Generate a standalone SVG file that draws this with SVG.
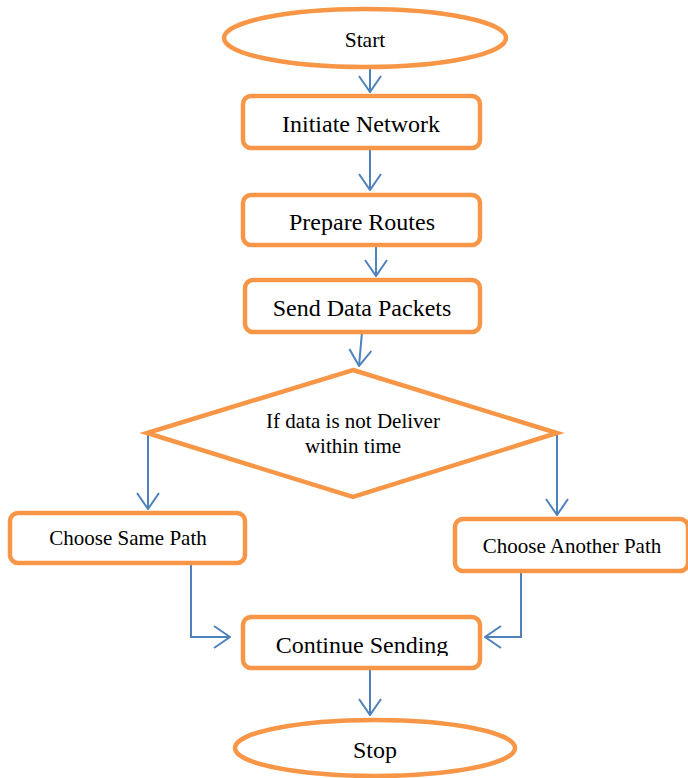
<svg xmlns="http://www.w3.org/2000/svg" width="688" height="778" viewBox="0 0 688 778">
<defs>
<marker id="arr" viewBox="0 0 18 24" refX="17" refY="12" markerWidth="18" markerHeight="24" markerUnits="userSpaceOnUse" orient="auto">
<path d="M1,1 L17,12 L1,23" fill="none" stroke="#4F81BD" stroke-width="2"/>
</marker>
<clipPath id="cs"><rect x="243" y="617" width="237" height="39"/></clipPath>
</defs>
<style>
.sh{fill:#fff;stroke:#F79646;stroke-width:4.5}
.t{font-family:"Liberation Serif","Times New Roman",serif;fill:#000;text-anchor:middle}
.c{fill:none;stroke:#4F81BD;stroke-width:2;marker-end:url(#arr)}
</style>
<rect width="688" height="778" fill="#fff"/>
<g id="connectors">
<path class="c" d="M370,68 L370,92"/>
<path class="c" d="M370,148 L370,190"/>
<path class="c" d="M376,245 L376,276"/>
<path class="c" d="M362,332 L359,366"/>
<path class="c" d="M148,433 L148,509"/>
<path class="c" d="M557,433 L557,515"/>
<path class="c" d="M149,563 L191,563 L191,637 L230,637"/>
<path class="c" d="M563,571 L521,571 L521,637 L485,637"/>
<path class="c" d="M370,668 L370,715"/>
</g>
<g id="start">
<ellipse class="sh" cx="365" cy="38" rx="141" ry="29"/>
<text class="t" x="365" y="47" font-size="21.5">Start</text>
</g>
<g id="initiate">
<rect class="sh" x="243" y="96" width="237" height="52" rx="8"/>
<text class="t" x="361" y="132" font-size="24">Initiate Network</text>
</g>
<g id="prepare">
<rect class="sh" x="243" y="195" width="237" height="50" rx="8"/>
<text class="t" x="362" y="230" font-size="24">Prepare Routes</text>
</g>
<g id="send">
<rect class="sh" x="245" y="280" width="235" height="52" rx="8"/>
<text class="t" x="362" y="316" font-size="24">Send Data Packets</text>
</g>
<g id="decision">
<polygon class="sh" points="353,370 557,433 353,497 147,433"/>
<text class="t" x="353" y="428" font-size="21">If data is not Deliver</text>
<text class="t" x="353" y="453" font-size="21">within time</text>
</g>
<g id="same">
<rect class="sh" x="10" y="513" width="235" height="50" rx="8"/>
<text class="t" x="128" y="545" font-size="21">Choose Same Path</text>
</g>
<g id="another">
<rect class="sh" x="455" y="519" width="233" height="52" rx="8"/>
<text class="t" x="572" y="553" font-size="21">Choose Another Path</text>
</g>
<g id="continue">
<rect class="sh" x="243" y="617" width="237" height="51" rx="8"/>
<text class="t" x="362" y="653" font-size="24" clip-path="url(#cs)">Continue Sending</text>
</g>
<g id="stop">
<ellipse class="sh" cx="375" cy="748" rx="140" ry="28"/>
<text class="t" x="375" y="758" font-size="24">Stop</text>
</g>
</svg>
